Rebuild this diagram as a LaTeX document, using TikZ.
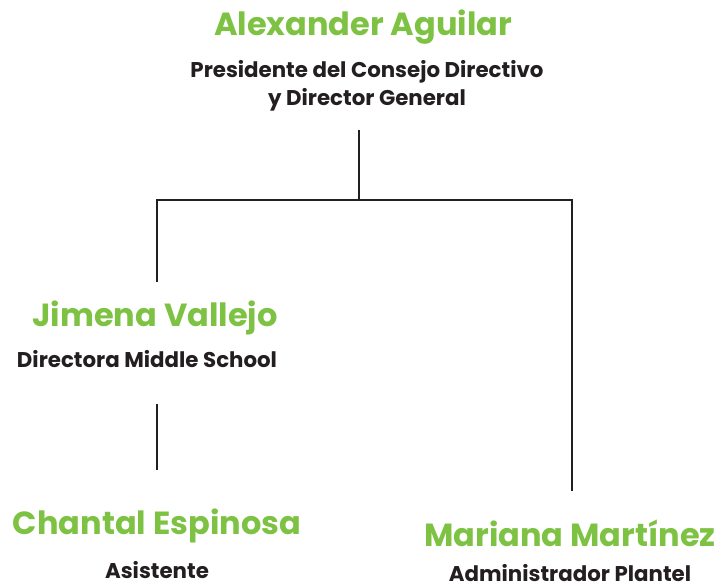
\documentclass[tikz,border=0pt]{standalone}
\usepackage{fontspec}
\setmainfont{Poppins}
\usetikzlibrary{positioning}
\definecolor{namegreen}{HTML}{7DC242}
\definecolor{inkdark}{HTML}{231F20}
\tikzset{
  personname/.style={text=namegreen, font=\bfseries\fontsize{24}{28}\selectfont, inner sep=0pt},
  personrole/.style={text=inkdark, font=\bfseries\fontsize{16}{21}\selectfont, align=center, inner sep=0pt},
  link/.style={draw=inkdark, line width=1.9pt}
}

\begin{document}
\begin{tikzpicture}[x=0.75pt,y=-0.75pt]
\useasboundingbox (0,0) rectangle (717,583);

% junctions of the tree
\coordinate (top) at (359,130);
\coordinate (mid) at (359,200);
\coordinate (L) at (157,200);
\coordinate (R) at (572,200);
\coordinate (Lend) at (157,282);
\coordinate (Rend) at (572,491);
\coordinate (Ltop) at (157,404);
\coordinate (Lbot) at (157,470);

\draw[link] (top) -- (mid);
\draw[link] (Lend) -- (L) -- (R) -- (Rend);
\draw[link] (Ltop) -- (Lbot);

\node[personname] (alex) at (363,27) {Alexander Aguilar};
\node[personrole] (alexrole) at (367,86) {Presidente del Consejo Directivo\\y Director General};

\node[personname] (jimena) at (155,318) {Jimena Vallejo};
\node[personrole] (jimenarole) at (147,359) {Directora Middle School};

\node[personname] (chantal) at (157,526) {Chantal Espinosa};
\node[personrole] (chantalrole) at (157,570) {Asistente};

\node[personname] (mariana) at (570,533) {Mariana Martínez};
\node[personrole] (marianarole) at (570,573) {Administrador Plantel};
\end{tikzpicture}
\end{document}
